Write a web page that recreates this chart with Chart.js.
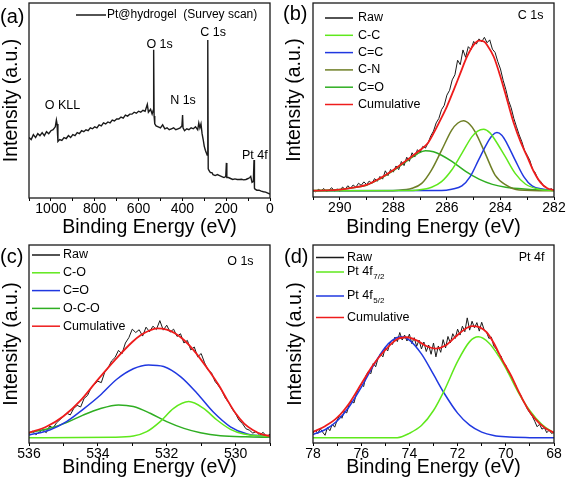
<!DOCTYPE html>
<html>
<head>
<meta charset="utf-8">
<script src="https://cdn.jsdelivr.net/npm/chart.js@4.4.1/dist/chart.umd.min.js"></script>
<style>
  html, body { margin: 0; padding: 0; background: #fff; }
  #fig { position: relative; width: 567px; height: 485px; overflow: hidden; }
  #fig canvas { position: absolute; }
</style>
</head>
<body>
<div id="fig">
  <canvas id="panelA" width="285" height="240" style="left:0;top:0"></canvas>
  <canvas id="panelB" width="287" height="240" style="left:280px;top:0"></canvas>
  <canvas id="panelC" width="285" height="245" style="left:0;top:240px"></canvas>
  <canvas id="panelD" width="287" height="245" style="left:280px;top:240px"></canvas>
</div>
<script>
// ==============================
// XPS - Pt@hydrogel
// ==============================

// ---- (a) survey scan ----
const surveyEV = [1100,1090,1080,1070,1060,1050,1040,1030,1020,1010,1000,990,980,975,972,968,960,950,940,930,
  920,910,900,890,880,870,860,850,840,830,820,810,800,790,780,770,760,750,740,730,
  720,710,700,690,680,670,660,650,640,630,620,610,600,590,580,570,560,555,545,538,
  533,531,529,526,520,510,500,490,480,470,460,450,440,430,420,410,402,399,397,390,
  380,370,360,350,340,330,325,320,315,310,305,300,295,290,287,284,282,278,272,265,
  260,250,240,230,220,210,202,199,197,190,180,170,160,150,140,130,120,110,100,92,
  88,82,76,73,71,68,60,50,40,30,20,10,0];
const surveyCounts = [31,30,32.5,31,33,32,33.5,32,34,33,34.5,35,36.5,40,38,29,30,29.5,31,30.5,
  32,31,32.5,32,33.5,33,34.5,34,35,34.5,36,35.5,36.5,36,37.5,37,38.5,38,39,38.5,
  40,39.5,40.5,40.5,41.5,41,42.5,42,43,43,44,43.5,44.5,44,45,44.5,48,44,45.5,43,
  45,76,42,38,37,36.5,36,37.5,35.5,36,35,35.5,36,35,35.5,36,37,42.5,36,34.5,
  35.5,35,36,35.5,36.5,35,38.5,36,38,33,30,26.5,24.5,23,22,81,15,14,13,13,
  12,11.5,12,11.5,11,10.5,11,18,10.5,10.5,10,9.5,9.8,9.5,9.5,9.6,9.3,9.5,10,10.5,
  11,8,8.5,19.5,5,4.5,4,4,3.5,3.2,3,2.5,2];

// ---- (b) C 1s ----
const c1sStart = 291, c1sStep = 0.1;
const c1sRaw = [3.5,2.6,4.0,3.1,4.4,2.8,3.6,4.8,3.0,4.2,
  2.9,5.1,4.0,5.8,4.5,6.2,5.0,7.1,6.0,7.8,
  6.4,8.2,7.0,9.5,8.1,10.6,9.2,13.5,11.0,14.2,
  12.8,16.0,14.1,18.3,16.2,20.5,18.4,22.8,20.6,24.4,
  23.0,26.1,25.2,28.0,31.5,34.0,38.2,40.5,45.0,47.2,
  52.5,55.0,60.4,63.0,70.5,68.2,75.8,72.0,77.5,76.0,
  80.2,78.8,81.5,80.0,82.3,79.5,81.0,76.2,74.5,69.8,
  66.0,60.2,55.5,49.8,46.0,40.5,36.2,32.0,28.5,24.0,
  21.5,18.8,14.2,12.5,9.0,8.1,5.8,5.2,3.6,4.3,
  3.2];
const c1sCC = [[291,3.2],[287.5,3.3],[287.07,3.6],[286.57,5],[286.2,7.9],[285.82,13.9],[285.44,22.5],[285.07,31],
  [284.85,34],[284.63,34.9],[284.4,33.2],[284.2,29.4],[283.82,20.8],[283.45,12.2],[283.07,6.7],[282.57,4],[282,3.3]];
const c1sCdC = [[291,3.2],[286.2,3.3],[285.82,4],[285.44,5.7],[285.13,10.5],[284.82,19],[284.5,27.7],[284.3,31.8],
  [284.13,33.2],[283.95,31.8],[283.76,27.7],[283.45,19],[283.13,10.5],[282.82,5.7],[282.39,4],[282,3.4]];
const c1sCN = [[291,3.2],[288.5,3.2],[287.9,3.4],[287.3,4.5],[286.94,7],[286.57,14],[286.2,24],[285.82,34.5],
  [285.6,38],[285.38,39.3],[285.15,37.5],[284.95,33.7],[284.57,22.5],[284.2,11.3],[283.8,6.2],[283.3,3.6],[282,3.2]];
const c1sCdO = [[291,3.4],[290,3.9],[289.5,4.8],[289,6.1],[288.5,9.4],[288,13.6],[287.5,18.5],[287.1,22.3],
  [286.8,23.9],[286.5,23.3],[286.2,21.5],[285.8,18.2],[285.3,13.2],[284.8,9.2],[284.3,6.5],[283.8,5],[283,4],[282,3.4]];
const c1sCum = [[291,3.3],[290.5,3.4],[290,3.8],[289.5,4.8],[289,6.2],[288.5,9.6],[288,13.9],[287.5,19],[287,24.2],
  [286.7,28],[286.5,32.8],[286.25,39.5],[286,46.6],[285.75,55],[285.5,63.7],[285.25,72.3],[285,78.4],[284.8,80.6],
  [284.6,80],[284.5,78.4],[284.25,72.3],[284,62],[283.75,50],[283.5,38],[283.25,28.5],[283,20.8],[282.75,13],
  [282.5,7.4],[282.25,4.5],[282,3.6]];

// ---- (c) O 1s ----
const o1sStart = 536, o1sStep = 0.1;
const o1sRaw = [4.8,6.0,4.2,5.5,6.8,5.2,8.5,7.6,10.2,11.8,
  13.5,15.0,14.2,17.5,19.0,18.2,22.5,24.0,27.8,29.5,
  31.2,30.5,35.8,38.0,41.5,43.2,46.8,45.0,50.5,53.2,
  57.5,55.8,57.2,54.0,58.5,56.2,59.0,57.3,61.8,57.0,
  59.5,56.0,57.5,53.8,55.2,50.5,51.8,47.0,48.5,43.5,
  45.2,40.5,36.8,35.5,31.2,29.0,26.5,22.8,20.5,17.2,
  14.8,11.5,9.8,7.2,6.5,5.0,5.8,3.9,5.4,3.2,
  4.5];
const o1sCO = [[536,2.7],[533.55,2.9],[532.97,3.5],[532.58,5.7],[532.19,10.8],[531.8,17.5],[531.36,20.9],
  [530.93,17.5],[530.54,11.6],[530.15,6.9],[529.76,4.5],[529,3.2]];
const o1sCdO = [[536,4],[535.4,6.6],[534.91,10.8],[534.43,17],[533.94,24],[533.45,32.2],[532.97,37.5],[532.53,39.4],
  [532.09,38.6],[531.6,33.5],[531.12,25.1],[530.64,15.5],[530.15,8.2],[529.66,4.5],[529,3.2]];
const o1sOCO = [[536,5.2],[535.4,7.4],[534.91,10.3],[534.43,14.1],[533.94,17.3],[533.4,19.2],[532.97,18.4],
  [532.48,15],[532,10.8],[531.5,7.4],[531.02,5.2],[530.44,3.7],[529.7,3.1],[529,2.9]];
const o1sCum = [[536,5.2],[535.5,8.2],[535,13.5],[534.5,21.5],[534,32],[533.5,42],[533,51],[532.75,54.5],
  [532.5,56.8],[532.29,57.9],[532,57.3],[531.75,55.3],[531.5,52],[531.25,47.5],[531,42],[530.75,36],[530.5,29.5],
  [530.25,22],[530,15],[529.75,9.8],[529.5,6.6],[529.25,4.5],[529,3.5]];

// ---- (d) Pt 4f ----
const pt4fStart = 78, pt4fStep = 0.1;
const pt4fRaw = [5.0,6.5,4.8,7.2,5.5,3.9,7.8,6.2,9.5,8.0,
  11.5,13.8,12.5,16.0,15.2,19.5,21.0,20.2,25.0,27.5,
  29.8,28.5,34.0,36.2,35.0,40.2,38.5,42.8,45.0,43.5,
  48.2,46.5,51.0,49.8,53.5,51.2,55.8,52.0,54.5,51.5,
  55.0,50.2,53.2,48.8,52.0,47.5,51.0,46.2,49.5,44.8,
  50.5,43.5,49.0,45.8,52.2,48.0,53.8,50.5,55.2,52.8,
  57.5,54.5,59.0,56.2,63.2,57.0,61.5,58.2,60.8,56.5,
  61.0,57.2,56.0,52.8,53.5,49.0,47.5,45.2,44.0,40.5,
  39.2,35.5,34.0,31.2,29.5,26.0,24.8,21.5,19.8,17.0,
  15.2,13.5,11.0,8.2,9.5,7.0,7.8,5.2,6.5,4.8,
  5.5];
const pt4f72 = [[78,2.6],[74.5,2.7],[74,4.9],[73.5,8.8],[73,16.4],[72.55,26.6],[72,41.2],[71.5,51.2],[71.14,53.6],
  [70.7,50.5],[70.3,44],[70,37.8],[69.5,26],[69,16.3],[68.5,9.3],[68,5]];
const pt4f52 = [[78,4.3],[77.5,6.7],[77,11.1],[76.5,18.3],[76,28.1],[75.5,39],[75,48.4],[74.7,52],[74.35,53.6],
  [74,52],[73.5,45],[73,34.6],[72.55,25],[72,15.1],[71.5,9],[71,5.5],[70.5,3.8],[70,3.1],[69,2.7],[68,2.6]];
const pt4fCum = [[78,5.6],[77.5,8.5],[77,12.8],[76.5,20],[76,29.8],[75.5,39.5],[75,47],[74.5,52.5],[74.1,53.4],
  [73.7,51.8],[73.3,49],[72.9,47.7],[72.5,49.2],[72.1,53.5],[71.7,57.5],[71.4,59],[71.1,58.5],[70.8,56],[70.5,50.5],
  [70.17,42.5],[69.8,34.5],[69.48,26.3],[69.1,17.5],[68.79,12.3],[68.4,7.8],[68,5.2]];

// ---- helpers ----
const FONT = '"Liberation Sans", Arial, sans-serif';
Chart.defaults.font.family = FONT;
Chart.defaults.color = "#000";

const cores = {
  raw: "#1a1a1a",
  lime: "#5fe81c",
  blue: "#2038e0",
  olive: "#6f7f26",
  green: "#2fae22",
  red: "#ee1c1c",
};

function serieGrade(start, step, vals) {
  return vals.map((v, i) => ({ x: +(start - i * step).toFixed(2), y: v }));
}
function seriePares(pares) {
  return pares.map(([x, y]) => ({ x, y }));
}
function ds(label, data, color, width, order) {
  return { label, data, borderColor: color, borderWidth: width, order, pointRadius: 0, fill: false };
}

// moldura, letra do painel, anotações e legenda
const decorPlugin = {
  id: "decor",
  afterDraw(chart, args, o) {
    const { ctx, chartArea: a, scales } = chart;
    ctx.save();
    ctx.strokeStyle = "#1a1a1a";
    ctx.lineWidth = 1.3;
    ctx.strokeRect(a.left, a.top, a.right - a.left, a.bottom - a.top);

    ctx.fillStyle = "#000";
    ctx.textBaseline = "middle";
    ctx.textAlign = "left";
    ctx.font = "20px " + FONT;
    ctx.fillText(o.tag, o.tagX, o.tagY);

    ctx.font = "12.5px " + FONT;
    ctx.textAlign = "center";
    (o.notes || []).forEach((n) => {
      ctx.fillText(n.text, scales.x.getPixelForValue(n.x), scales.y.getPixelForValue(n.y));
    });

    const L = o.legend;
    L.items.forEach((it, i) => {
      const y = a.top + L.rows[i];
      const d = chart.data.datasets[it.ds];
      ctx.strokeStyle = d.borderColor;
      ctx.lineWidth = 1.5;
      ctx.beginPath();
      ctx.moveTo(a.left + L.x0, y);
      ctx.lineTo(a.left + L.x1, y);
      ctx.stroke();
      ctx.font = L.size + "px " + FONT;
      ctx.textAlign = "left";
      ctx.fillText(it.text, a.left + L.tx, y);
      if (it.sub) {
        const w = ctx.measureText(it.text).width;
        ctx.font = "8px " + FONT;
        ctx.fillText(it.sub, a.left + L.tx + w + 0.5, y + 5);
      }
    });
    ctx.restore();
  },
};

function montarPainel(id, o) {
  return new Chart(document.getElementById(id), {
    type: "line",
    data: { datasets: o.datasets },
    options: {
      responsive: false,
      animation: false,
      events: [],
      layout: { padding: { top: o.top, right: o.right, left: 0, bottom: 0 } },
      elements: { line: { cubicInterpolationMode: "monotone" } },
      plugins: { legend: { display: false }, tooltip: { enabled: false }, decor: o.decor },
      scales: {
        x: {
          type: "linear",
          reverse: true,
          min: o.xmin,
          max: o.xmax,
          afterFit: (s) => { s.height = o.xh; },
          border: { display: false },
          grid: { drawOnChartArea: false, drawTicks: true, tickLength: 3, tickColor: "#000", tickWidth: 1 },
          ticks: {
            stepSize: o.step,
            autoSkip: false,
            maxRotation: 0,
            padding: 0,
            font: { size: 14 },
            callback: (v) => (Math.round(v) % o.labelStep === 0 ? String(v) : ""),
          },
          title: { display: true, text: "Binding Energy (eV)", font: { size: 19.5 }, padding: { top: 0, bottom: o.titlePad } },
        },
        y: {
          min: 0,
          max: 100,
          afterFit: (s) => { s.width = o.yw; },
          border: { display: false },
          grid: { display: false },
          ticks: { display: false },
          title: { display: true, text: "Intensity (a.u.)", font: { size: 19.5 }, padding: { top: o.yPad, bottom: 0 } },
        },
      },
    },
    plugins: [decorPlugin],
  });
}

// ---- (a) ----
montarPainel("panelA", {
  xmin: 0, xmax: 1100, step: 100, labelStep: 200,
  top: 3, right: 15, xh: 42, yw: 29, titlePad: 1, yPad: 0,
  datasets: [
    { ...ds("Pt@hydrogel  (Survey scan)", surveyEV.map((x, i) => ({ x, y: surveyCounts[i] })), cores.raw, 1.4, 1), tension: 0, cubicInterpolationMode: "default" },
  ],
  decor: {
    tag: "(a)", tagX: 0, tagY: 17,
    notes: [
      { text: "O 1s", x: 504, y: 78.7 },
      { text: "C 1s", x: 260, y: 84.8 },
      { text: "N 1s", x: 397, y: 50.2 },
      { text: "O KLL", x: 947, y: 47.6 },
      { text: "Pt 4f", x: 69, y: 21.6 },
    ],
    legend: { x0: 47, x1: 77, tx: 78, size: 12, rows: [12], items: [{ ds: 0, text: "Pt@hydrogel  (Survey scan)" }] },
  },
});

// ---- (b) ----
montarPainel("panelB", {
  xmin: 282, xmax: 291, step: 1, labelStep: 2,
  top: 3, right: 13, xh: 43, yw: 33, titlePad: 1, yPad: 3,
  datasets: [
    { ...ds("Raw", serieGrade(c1sStart, c1sStep, c1sRaw), cores.raw, 1, 3), cubicInterpolationMode: "default" },
    ds("C-C", seriePares(c1sCC), cores.lime, 1.5, 2),
    ds("C=C", seriePares(c1sCdC), cores.blue, 1.5, 2),
    ds("C-N", seriePares(c1sCN), cores.olive, 1.5, 2),
    ds("C=O", seriePares(c1sCdO), cores.green, 1.5, 2),
    ds("Cumulative", seriePares(c1sCum), cores.red, 1.8, 1),
  ],
  decor: {
    tag: "(b)", tagX: 3, tagY: 14,
    notes: [{ text: "C 1s", x: 282.87, y: 93.3 }],
    legend: {
      x0: 12, x1: 40, tx: 45, size: 12.5,
      rows: [15, 32.3, 49.6, 66.9, 84.2, 101.5],
      items: [
        { ds: 0, text: "Raw" }, { ds: 1, text: "C-C" }, { ds: 2, text: "C=C" },
        { ds: 3, text: "C-N" }, { ds: 4, text: "C=O" }, { ds: 5, text: "Cumulative" },
      ],
    },
  },
});

// ---- (c) ----
montarPainel("panelC", {
  xmin: 529, xmax: 536, step: 1, labelStep: 2,
  top: 5, right: 15, xh: 42, yw: 29, titlePad: 6, yPad: 0,
  datasets: [
    { ...ds("Raw", serieGrade(o1sStart, o1sStep, o1sRaw), cores.raw, 1, 3), cubicInterpolationMode: "default" },
    ds("C-O", seriePares(o1sCO), cores.lime, 1.5, 2),
    ds("C=O", seriePares(o1sCdO), cores.blue, 1.5, 2),
    ds("O-C-O", seriePares(o1sOCO), cores.green, 1.5, 2),
    ds("Cumulative", seriePares(o1sCum), cores.red, 1.8, 1),
  ],
  decor: {
    tag: "(c)", tagX: 0, tagY: 17,
    notes: [{ text: "O 1s", x: 529.86, y: 91.4 }],
    legend: {
      x0: 3, x1: 31, tx: 34, size: 12.5,
      rows: [10, 27.8, 45.6, 63.4, 81.2],
      items: [
        { ds: 0, text: "Raw" }, { ds: 1, text: "C-O" }, { ds: 2, text: "C=O" },
        { ds: 3, text: "O-C-O" }, { ds: 4, text: "Cumulative" },
      ],
    },
  },
});

// ---- (d) ----
montarPainel("panelD", {
  xmin: 68, xmax: 78, step: 1, labelStep: 2,
  top: 5, right: 13, xh: 42, yw: 33, titlePad: 6, yPad: 4,
  datasets: [
    { ...ds("Raw", serieGrade(pt4fStart, pt4fStep, pt4fRaw), cores.raw, 1, 3), cubicInterpolationMode: "default" },
    ds("Pt 4f7/2", seriePares(pt4f72), cores.lime, 1.5, 2),
    ds("Pt 4f5/2", seriePares(pt4f52), cores.blue, 1.5, 2),
    ds("Cumulative", seriePares(pt4fCum), cores.red, 1.8, 1),
  ],
  decor: {
    tag: "(d)", tagX: 4, tagY: 17,
    notes: [{ text: "Pt 4f", x: 68.93, y: 93.9 }],
    legend: {
      x0: 3, x1: 31, tx: 34, size: 12.5,
      rows: [12.5, 27, 51, 72.5],
      items: [
        { ds: 0, text: "Raw" }, { ds: 1, text: "Pt 4f", sub: "7/2" },
        { ds: 2, text: "Pt 4f", sub: "5/2" }, { ds: 3, text: "Cumulative" },
      ],
    },
  },
});
</script>
</body>
</html>
